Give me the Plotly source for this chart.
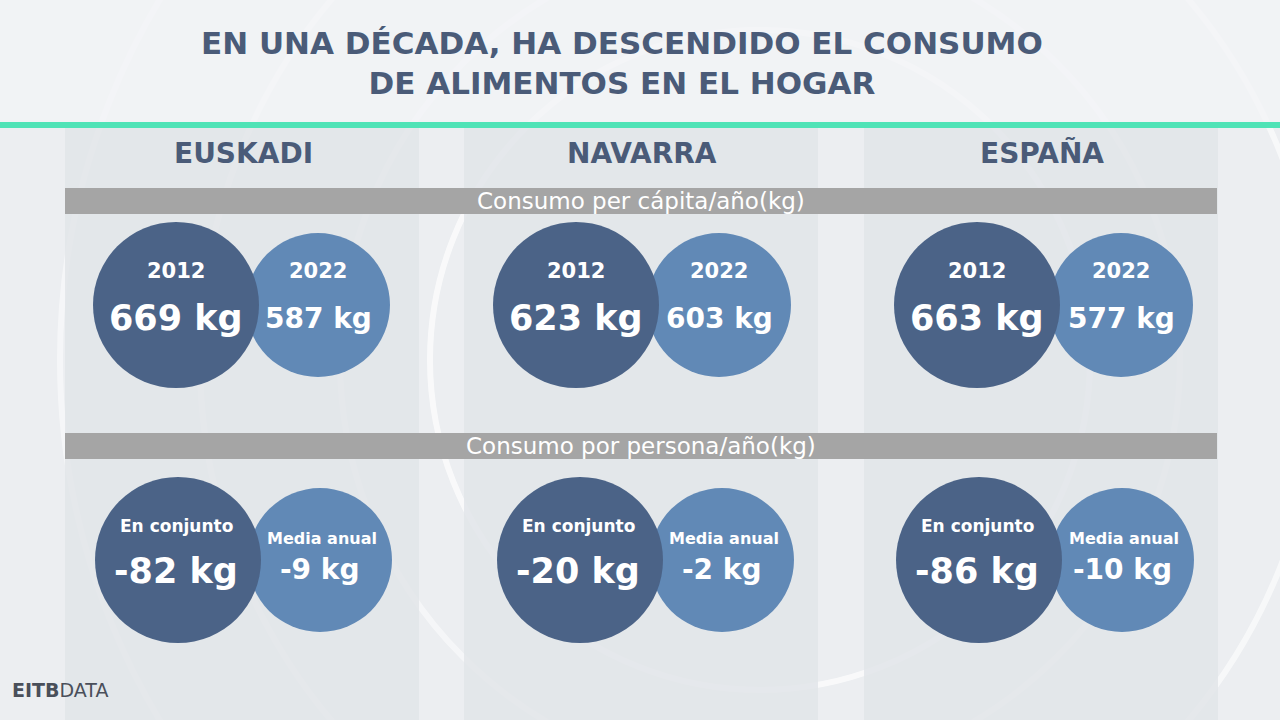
import plotly.graph_objects as go

# --- data ---
regions = ["EUSKADI", "NAVARRA", "ESPAÑA"]
years = ["2012", "2022"]
kg_2012 = [669, 623, 663]
kg_2022 = [587, 603, 577]
drop_total = [-82, -20, -86]
drop_yearly = [-9, -2, -10]
bar_labels = ["Consumo per cápita/año(kg)", "Consumo por persona/año(kg)"]
drop_labels = ["En conjunto", "Media anual"]

W, H = 1280, 720
DARK = "#4b6387"
LIGHT = "#6189b6"
TITLE_C = "#4a5b78"
FONT = "DejaVu Sans"

col_left = [65, 464, 864]
col_w = 354
dark_cx = [[176, 576, 977], [178, 580, 979]]
light_cx = [[318, 719, 1121], [320, 722, 1122]]
row_cy = [305, 560]

fig = go.Figure()
shapes = []
ann = []

# background rings
for r, op in [(330, 0.7), (420, 0.5), (560, 0.6), (700, 0.5)]:
    shapes.append(dict(type="circle", x0=760 - r, x1=760 + r, y0=360 - r, y1=360 + r,
                       line=dict(color="white", width=6), opacity=op, layer="below"))

# column panels
for x in col_left:
    shapes.append(dict(type="rect", x0=x, x1=x + col_w, y0=128, y1=H,
                       fillcolor="#e2e5e9", line_width=0, layer="below", opacity=0.85))

# header band + green line
shapes.append(dict(type="rect", x0=0, x1=W, y0=0, y1=122, fillcolor="#f3f4f6",
                   line_width=0, layer="below", opacity=0.8))
shapes.append(dict(type="line", x0=0, x1=W, y0=125, y1=125,
                   line=dict(color="#4fe3b6", width=6)))

# grey bars
for y, lab in zip([201, 446], bar_labels):
    shapes.append(dict(type="rect", x0=65, x1=1217, y0=y - 13, y1=y + 13,
                       fillcolor="#a5a5a5", line_width=0))
    ann.append(dict(x=641, y=y, text=lab, font=dict(size=23, color="white", family=FONT)))

for i, reg in enumerate(regions):
    ann.append(dict(x=col_left[i] + col_w / 2 + 1, y=153, text=f"<b>{reg}</b>",
                    font=dict(size=28, color=TITLE_C, family=FONT)))
    for row in range(2):
        cy = row_cy[row]
        cxd, cxl = dark_cx[row][i], light_cx[row][i]
        shapes.append(dict(type="circle", x0=cxl - 72, x1=cxl + 72, y0=cy - 72, y1=cy + 72,
                           fillcolor=LIGHT, line_width=0))
        shapes.append(dict(type="circle", x0=cxd - 83, x1=cxd + 83, y0=cy - 83, y1=cy + 83,
                           fillcolor=DARK, line_width=0))
    cy = row_cy[0]
    ann += [
        dict(x=dark_cx[0][i], y=cy - 34, text=f"<b>{years[0]}</b>", font=dict(size=21, color="white", family=FONT)),
        dict(x=dark_cx[0][i], y=cy + 13, text=f"<b>{kg_2012[i]} kg</b>", font=dict(size=35, color="white", family=FONT)),
        dict(x=light_cx[0][i], y=cy - 34, text=f"<b>{years[1]}</b>", font=dict(size=21, color="white", family=FONT)),
        dict(x=light_cx[0][i], y=cy + 13, text=f"<b>{kg_2022[i]} kg</b>", font=dict(size=28, color="white", family=FONT)),
    ]
    cy = row_cy[1]
    ann += [
        dict(x=dark_cx[1][i] - 2, y=cy - 34, text=f"<b>{drop_labels[0]}</b>", font=dict(size=17, color="white", family=FONT)),
        dict(x=dark_cx[1][i] - 2, y=cy + 11, text=f"<b>{drop_total[i]} kg</b>", font=dict(size=35, color="white", family=FONT)),
        dict(x=light_cx[1][i] + 2, y=cy - 22, text=f"<b>{drop_labels[1]}</b>", font=dict(size=16, color="white", family=FONT)),
        dict(x=light_cx[1][i], y=cy + 9, text=f"<b>{drop_yearly[i]} kg</b>", font=dict(size=28, color="white", family=FONT)),
    ]

ann.append(dict(x=622, y=63, text="<b>EN UNA DÉCADA, HA DESCENDIDO EL CONSUMO<br>DE ALIMENTOS EN EL HOGAR</b>",
                font=dict(size=31, color=TITLE_C, family=FONT)))
ann.append(dict(x=10, y=690, xanchor="left", text="<b>EITB</b>DATA",
                font=dict(size=19, color="#4a4f5a", family=FONT)))

for a in ann:
    a.update(xref="x", yref="y", showarrow=False)
    a.setdefault("xanchor", "center")
for s in shapes:
    s.update(xref="x", yref="y")

fig.update_layout(
    width=W, height=H, margin=dict(l=0, r=0, t=0, b=0),
    paper_bgcolor="#eceef1", plot_bgcolor="#eceef1",
    xaxis=dict(range=[0, W], visible=False, fixedrange=True),
    yaxis=dict(range=[H, 0], visible=False, fixedrange=True),
    shapes=shapes, annotations=ann, showlegend=False,
)
fig.write_html("out.html", config={"displayModeBar": False},
               post_script="document.body.style.margin='0';")
